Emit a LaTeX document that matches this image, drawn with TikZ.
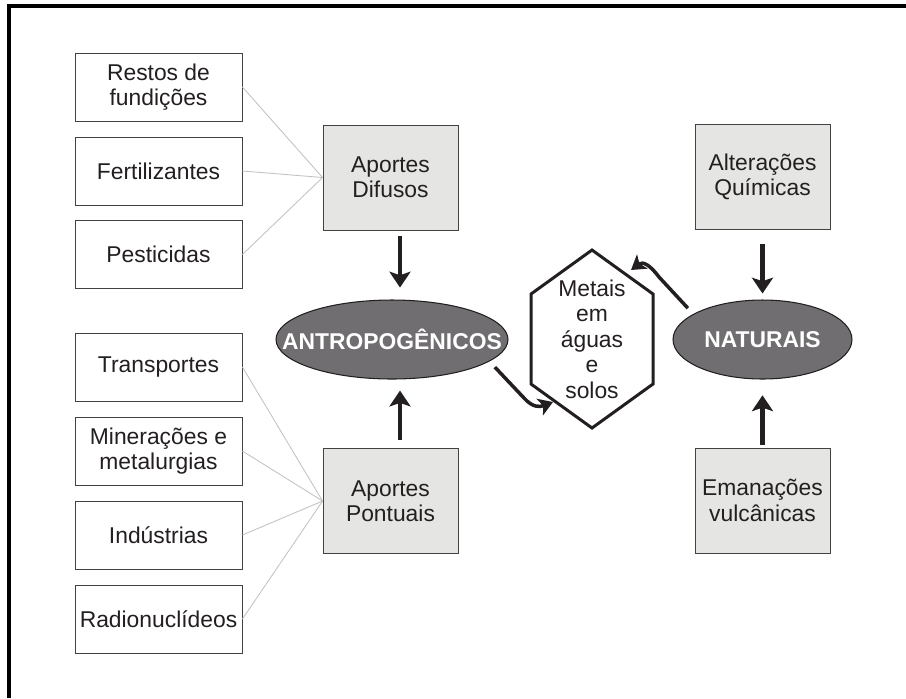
\documentclass[tikz,border=0pt]{standalone}
\usepackage{fontspec}
\setmainfont{Liberation Sans}
\usetikzlibrary{shapes.geometric,arrows.meta,positioning,calc}
\definecolor{boxgray}{RGB}{229,229,227}
\definecolor{ovalgray}{RGB}{112,110,112}
\definecolor{linkgray}{RGB}{195,195,195}
\definecolor{inkcol}{RGB}{35,31,32}

\begin{document}
\begin{tikzpicture}[x=0.02cm, y=-0.02cm,
	leaf_node/.style={draw=inkcol!85, line width=0.5pt, fill=white, minimum width=3.34cm, minimum height=1.36cm, inner sep=0pt, align=center, text=inkcol, font=\fontsize{13}{14.5}\selectfont},
	src_node/.style={leaf_node, fill=boxgray, minimum width=2.7cm, minimum height=2.1cm},
	class_node/.style={ellipse, draw=inkcol, line width=0.6pt, fill=ovalgray, minimum height=1.58cm, inner xsep=-16pt, inner ysep=0pt, text=white, font=\bfseries\fontsize{13}{14.5}\selectfont},
	link/.style={linkgray, line width=0.5pt},
	big_arrow/.style={-{Stealth[length=9pt,width=12pt,inset=2pt]}, line width=2.6pt, inkcol},
	hook_arrow/.style={-{Stealth[length=8pt,width=10pt,inset=2pt]}, line width=2pt, inkcol}]
				
				\useasboundingbox (0,0) rectangle (906,698);
				\draw[line width=2.5pt] (9,698) -- (9,6) -- (906,6);
				
				% fontes difusas
				\node[leaf_node] (1) at (158.5, 87) {Restos de\\fundições};
				\node[leaf_node] (2) at (158.5, 171) {Fertilizantes};
				\node[leaf_node] (3) at (158.5, 254.5) {Pesticidas};
				% fontes pontuais
				\node[leaf_node] (4) at (158.5, 367) {Transportes};
				\node[leaf_node] (5) at (158.5, 451) {Minerações e\\metalurgias};
				\node[leaf_node] (6) at (158.5, 535) {Indústrias};
				\node[leaf_node] (7) at (158.5, 619) {Radionuclídeos};
				
				\node[src_node] (dif) at (390.5, 177.5) {Aportes\\Difusos};
				\node[src_node] (pont) at (390.5, 501) {Aportes\\Pontuais};
				\node[src_node] (alt) at (762.5, 177) {Alterações\\Químicas};
				\node[src_node] (ema) at (762.5, 500.5) {Emanações\\vulcânicas};
				
				\node[class_node, minimum width=4.64cm] (antro) at (392, 339.5) {ANTROPOGÊNICOS};
				\node[class_node, minimum width=3.58cm] (nat) at (762.5, 339.5) {NATURAIS};
				
				\node[align=center, text=inkcol, font=\fontsize{13}{14.5}\selectfont] (metais) at (592, 339) {Metais\\em\\águas\\e\\solos};
				\draw[inkcol, line width=1.7pt, line join=miter] (metais) ++(0,-89) -- ++(61,44) -- ++(0,90) -- ++(-61,44) -- ++(-61,-44) -- ++(0,-90) -- cycle;
				\coordinate (hex_in) at (553, 402);
				\coordinate (hex_back) at (631, 270);
				
				\path[link]
				(1.east) edge (dif.west)
				(2.east) edge (dif.west)
				(3.east) edge (dif.west)
				(4.east) edge (pont.west)
				(5.east) edge (pont.west)
				(6.east) edge (pont.west)
				(7.east) edge (pont.west);
				
				\draw[big_arrow, shorten <=3.4pt, shorten >=6.8pt] ([xshift=0.19cm]dif.south) -- ([xshift=0.19cm]dif.south |- antro.north);
				\draw[big_arrow, shorten <=4.5pt, shorten >=6.3pt] ([xshift=0.19cm]pont.north) -- ([xshift=0.19cm]pont.north |- antro.south);
				\draw[big_arrow, shorten <=8pt, shorten >=3.4pt] (alt.south) -- (nat.north);
				\draw[big_arrow, shorten <=1.7pt, shorten >=9pt] (ema.north) -- (nat.south);
				
				\draw[hook_arrow] ([shift={(11,3)}]antro.-15) -- (524,398) .. controls (533,408) and (540,407) .. (hex_in);
				\draw[hook_arrow] ([shift={(-5,-6)}]nat.160) -- (659,277) .. controls (650,265) and (643,261) .. (hex_back);
			\end{tikzpicture}
\end{document}
